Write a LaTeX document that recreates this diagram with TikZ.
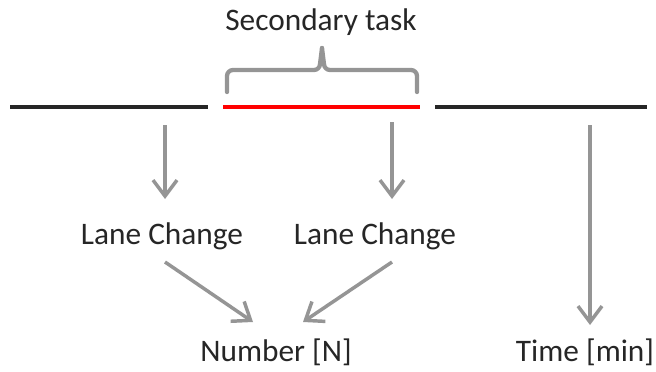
\documentclass[tikz,border=0pt]{standalone}
\usepackage{fontspec}
\setmainfont{Carlito}
\usetikzlibrary{arrows.meta}
\definecolor{arrowgray}{HTML}{959595}
\definecolor{txtgray}{HTML}{262626}
\definecolor{lineblack}{HTML}{262626}
\definecolor{taskred}{HTML}{FF0000}
\begin{document}
\begin{tikzpicture}[x=0.75pt,y=-0.75pt,
  lbl/.style={font=\fontsize{23.5pt}{26pt}\selectfont, text=txtgray, inner sep=0pt, anchor=center},
  timeline/.style={line width=3.4pt, draw=lineblack},
  arr/.style={line width=2.6pt, draw=arrowgray, -{Straight Barb[length=12pt,width=18pt,line width=2.6pt]}},
  bracestyle/.style={line width=3.2pt, draw=arrowgray, line cap=round, line join=round}]
\useasboundingbox (0,0) rectangle (656,371);
% timeline segments
\coordinate (b1s) at (10,107);
\coordinate (b1e) at (208,107);
\coordinate (rs) at (223,107);
\coordinate (re) at (420,107);
\coordinate (b2s) at (435,107);
\coordinate (b2e) at (647,107);
\draw[timeline] (b1s) -- (b1e);
\draw[timeline, draw=taskred] (rs) -- (re);
\draw[timeline] (b2s) -- (b2e);
% brace
\coordinate (brl) at (227,92);
\coordinate (brr) at (417,92);
\coordinate (brt) at (322,48);
\draw[bracestyle] (brl) -- (227,76) to[out=90,in=180] (233,70) -- (314,70) to[out=0,in=-90] (320,64) -- (brt);
\draw[bracestyle] (brr) -- (417,76) to[out=90,in=0] (411,70) -- (330,70) to[out=180,in=-90] (324,64) -- (brt);
% labels
\node[lbl] (sec) at (321,22) {Secondary task};
\node[lbl] (lc1) at (162,236) {Lane Change};
\node[lbl] (lc2) at (375,236) {Lane Change};
\node[lbl] (num) at (276,352) {Number [N]};
\node[lbl] (time) at (585,352) {Time [min]};
% vertical arrows
\coordinate (a1s) at (165,125);
\coordinate (a1e) at (165,199);
\coordinate (a2s) at (392,122);
\coordinate (a2e) at (392,199);
\coordinate (a3s) at (590,125);
\coordinate (a3e) at (590,325);
\draw[arr] (a1s) -- (a1e);
\draw[arr] (a2s) -- (a2e);
\draw[arr] (a3s) -- (a3e);
% diagonal arrows
\coordinate (d1s) at (165,262);
\coordinate (d1e) at (253,322);
\coordinate (d2s) at (392,262);
\coordinate (d2e) at (303,322);
\draw[arr] (d1s) -- (d1e);
\draw[arr] (d2s) -- (d2e);
\end{tikzpicture}
\end{document}
